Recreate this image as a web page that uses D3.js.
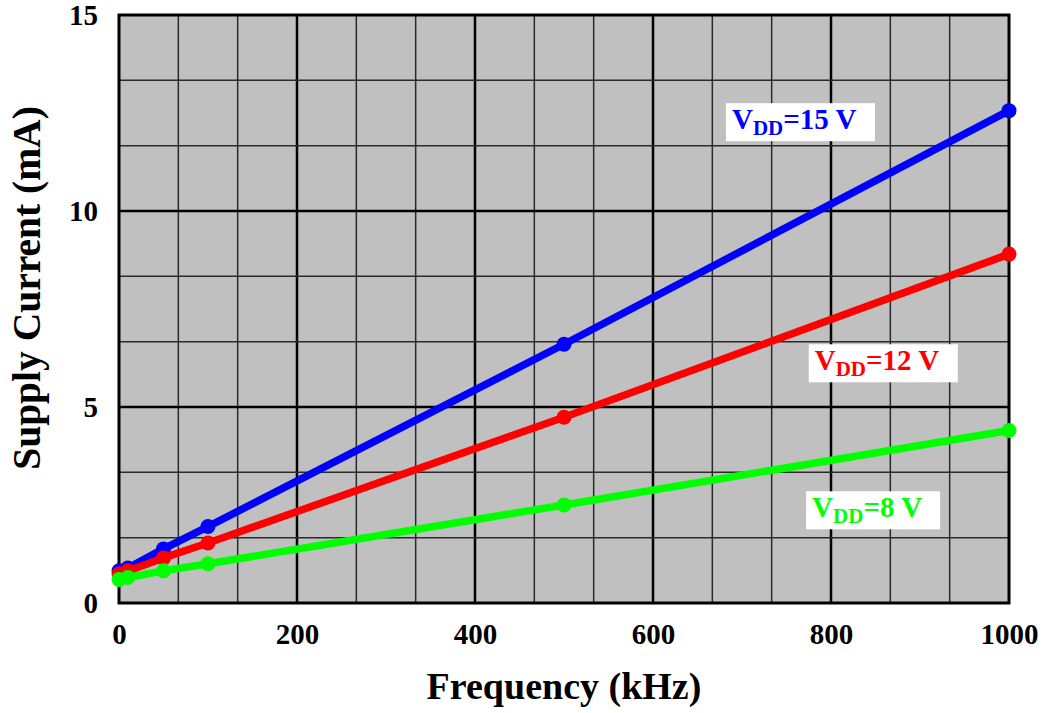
<!DOCTYPE html>
<html>
<head>
<meta charset="utf-8">
<script src="https://cdn.jsdelivr.net/npm/d3@7"></script>
<style>
  body { margin: 0; background: #fff; }
</style>
</head>
<body>
<svg width="1048" height="713"></svg>
<script>
// supply current vs frequency, three supply voltages

var freq = [0, 10, 50, 100, 500, 1000];          // kHz
var vdd15 = [0.82, 0.89, 1.38, 1.95, 6.6, 12.56];  // mA
var vdd12 = [0.74, 0.82, 1.15, 1.53, 4.74, 8.9];
var vdd8 = [0.6, 0.65, 0.82, 1.0, 2.5, 4.4];

var xTicks = [0, 200, 400, 600, 800, 1000];
var yTicks = [0, 5, 10, 15];

var seriesNames = ["VDD=15 V", "VDD=12 V", "VDD=8 V"];
var seriesColors = ["#0000ff", "#ff0000", "#00ff00"];

var FONT = "'Liberation Serif', 'Times New Roman', Times, serif";

var svg = d3.select("svg"),
    margin = {top: 15, right: 39, bottom: 110, left: 119},
    width = +svg.attr("width") - margin.left - margin.right,
    height = +svg.attr("height") - margin.top - margin.bottom;

var x = d3.scaleLinear().domain([0, 1000]).range([0, width]),
    y = d3.scaleLinear().domain([0, 15]).range([height, 0]);

var g = svg.append("g")
    .attr("transform", "translate(" + margin.left + "," + margin.top + ")");

// plot background
g.append("rect")
    .attr("width", width)
    .attr("height", height)
    .attr("fill", "#c0c0c0");

// grid: 3 minor divisions per major step
var xGrid = d3.range(1, 15).map(function(i) { return i * 200 / 3; });
var yGrid = d3.range(1, 9).map(function(i) { return i * 5 / 3; });
function isMajor(i) { return i % 3 === 0; }

g.append("g").selectAll("line")
    .data(xGrid)
    .enter().append("line")
    .attr("x1", function(d) { return x(d); })
    .attr("x2", function(d) { return x(d); })
    .attr("y1", 0).attr("y2", height)
    .attr("stroke", function(d, i) { return isMajor(i + 1) ? "#000" : "#2a2a2a"; })
    .attr("stroke-width", function(d, i) { return isMajor(i + 1) ? 2.5 : 1.5; });

g.append("g").selectAll("line")
    .data(yGrid)
    .enter().append("line")
    .attr("x1", 0).attr("x2", width)
    .attr("y1", function(d) { return y(d); })
    .attr("y2", function(d) { return y(d); })
    .attr("stroke", function(d, i) { return isMajor(i + 1) ? "#000" : "#2a2a2a"; })
    .attr("stroke-width", function(d, i) { return isMajor(i + 1) ? 2.5 : 1.5; });

// border
g.append("rect")
    .attr("width", width)
    .attr("height", height)
    .attr("fill", "none")
    .attr("stroke", "#000")
    .attr("stroke-width", 3);

// axes (labels only)
var xAxis = g.append("g")
    .attr("transform", "translate(0," + height + ")")
    .call(d3.axisBottom(x).tickValues(xTicks).tickSize(0).tickPadding(20).tickFormat(d3.format("d")));
var yAxis = g.append("g")
    .call(d3.axisLeft(y).tickValues(yTicks).tickSize(0).tickPadding(21).tickFormat(d3.format("d")));

[xAxis, yAxis].forEach(function(ax) {
    ax.select(".domain").remove();
    ax.attr("font-family", FONT).attr("font-size", 29);
    ax.selectAll("text")
        .attr("font-family", FONT)
        .attr("font-weight", "bold")
        .attr("font-size", 29)
        .attr("fill", "#000");
});

// series
var allSeries = [vdd15, vdd12, vdd8];

var line = d3.line()
    .x(function(d) { return x(d[0]); })
    .y(function(d) { return y(d[1]); });

allSeries.forEach(function(vals, k) {
    var pts = freq.map(function(f, i) { return [f, vals[i]]; });
    g.append("path")
        .datum(pts)
        .attr("fill", "none")
        .attr("stroke", seriesColors[k])
        .attr("stroke-width", 7.5)
        .attr("stroke-linejoin", "round")
        .attr("d", line);
    g.append("g").selectAll("circle")
        .data(pts)
        .enter().append("circle")
        .attr("cx", function(d) { return x(d[0]); })
        .attr("cy", function(d) { return y(d[1]); })
        .attr("r", 7.5)
        .attr("fill", seriesColors[k]);
});

// series labels (box top-left given in data units)
var labelPos = [[682, 12.75], [775, 6.6], [772, 2.85]];
var labelW = [149, 149, 134];

allSeries.forEach(function(vals, k) {
    var bx = x(labelPos[k][0]), by = y(labelPos[k][1]);
    var lg = g.append("g").attr("transform", "translate(" + bx + "," + by + ")");
    lg.append("rect")
        .attr("width", labelW[k])
        .attr("height", 38)
        .attr("fill", "#fff");
    var t = lg.append("text")
        .attr("x", 6)
        .attr("y", 26)
        .attr("fill", seriesColors[k])
        .attr("font-family", FONT)
        .attr("font-weight", "bold")
        .attr("font-size", 29);
    var nm = seriesNames[k];
    t.append("tspan").text(nm.slice(0, 1));
    t.append("tspan").attr("font-size", 21).attr("dy", 6).text(nm.slice(1, 3));
    t.append("tspan").attr("dy", -6).text(nm.slice(3));
});

// axis titles
svg.append("text")
    .attr("x", margin.left + width / 2)
    .attr("y", 699)
    .attr("text-anchor", "middle")
    .attr("font-family", FONT)
    .attr("font-weight", "bold")
    .attr("font-size", 38)
    .text("Frequency (kHz)");

svg.append("text")
    .attr("transform", "translate(40,288) rotate(-90)")
    .attr("text-anchor", "middle")
    .attr("font-family", FONT)
    .attr("font-weight", "bold")
    .attr("font-size", 39.5)
    .text("Supply Current (mA)");
</script>
</body>
</html>
